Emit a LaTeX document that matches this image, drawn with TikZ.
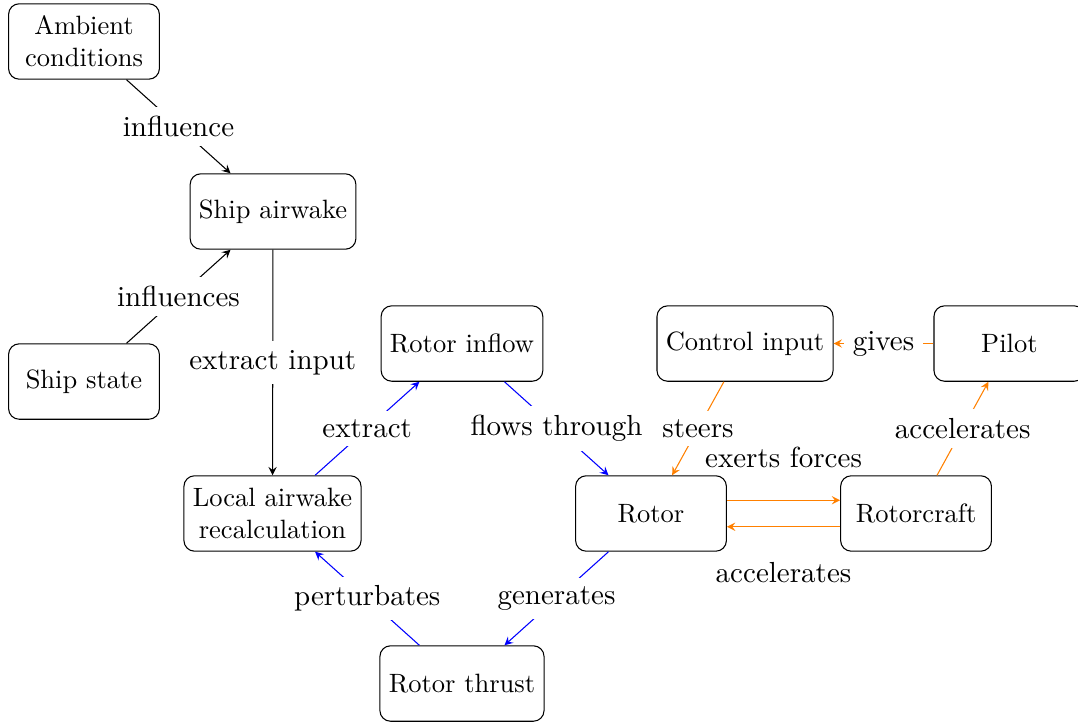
\documentclass[tikz,border=0pt]{standalone}
\usepackage{tikz}
\usetikzlibrary{arrows.meta,positioning}

\begin{document}
\begin{tikzpicture}[>=stealth,
box/.style={draw,rounded corners,minimum width=2cm,minimum height=1cm,align=center},
lbl/.style={fill=white,text=black,font=\fontsize{10.95}{13.6}\selectfont},
sidelbl/.style={text=black,font=\fontsize{10.95}{13.6}\selectfont},
bflow/.style={->,blue},oflow/.style={->,orange}]
\useasboundingbox (0,0) rectangle (14.297,-9.576);
\node[box] (amb) at (1.114,-0.550) {Ambient\\conditions};
\node[box] (air) at (3.621,-2.805) {Ship airwake};
\node[box] (state) at (1.114,-5.060) {Ship state};
\node[box] (inflow) at (6.127,-4.556) {Rotor inflow};
\node[box] (ctrl) at (9.881,-4.556) {Control input};
\node[box] (pilot) at (13.387,-4.556) {Pilot};
\node[box] (local) at (3.614,-6.810) {Local airwake\\recalculation};
\node[box] (rotor) at (8.634,-6.810) {Rotor};
\node[box] (craft) at (12.149,-6.810) {Rotorcraft};
\node[box] (thrust) at (6.127,-9.065) {Rotor thrust};
% ship side
\draw[->] (amb)--(air) node[midway,lbl] {influence};
\draw[->] (state)--(air) node[midway,lbl] {influences};
\draw[->] (air)--(local) node[midway,lbl] {extract input};
% rotor loop
\draw[bflow] (local)--(inflow) node[midway,lbl] {extract};
\draw[bflow] (inflow)--(rotor) node[midway,lbl] {flows through};
\draw[bflow] (rotor)--(thrust) node[midway,lbl] {generates};
\draw[bflow] (thrust)--(local) node[midway,lbl] {perturbates};
% pilot loop
\draw[oflow] (pilot)--(ctrl) node[midway,lbl] {gives};
\draw[oflow] (ctrl)--(rotor) node[midway,lbl] {steers};
\draw[oflow] ([yshift=5pt]rotor.east)--([yshift=5pt]craft.west) node[midway,above=3mm,sidelbl] {exerts forces};
\draw[oflow] ([yshift=-5pt]craft.west)--([yshift=-5pt]rotor.east) node[midway,below=3.5mm,sidelbl] {accelerates};
\draw[oflow] (craft)--(pilot) node[midway,lbl] {accelerates};
\end{tikzpicture}
\end{document}
